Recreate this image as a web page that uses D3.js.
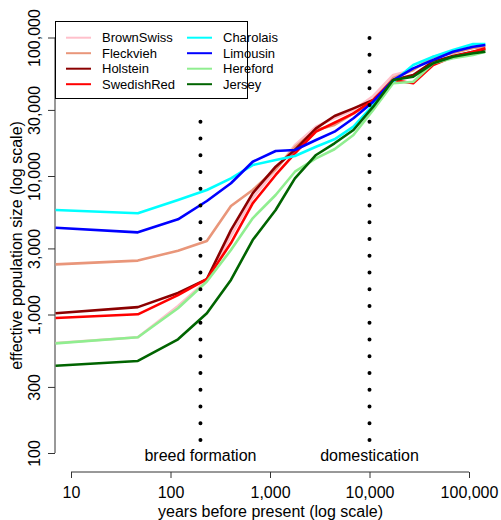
<!DOCTYPE html>
<html>
<head>
<meta charset="utf-8">
<script src="https://cdn.jsdelivr.net/npm/d3@7"></script>
<style>
	body { margin:0; background:#fff; }
	svg text { font-family:"Liberation Sans", Arial, Helvetica, sans-serif; fill:#000; }
</style>
</head>
<body>
<div id="chart"></div>
<script>

//years before present of each estimate
var years = [7, 47, 119, 232, 405, 670, 1140, 1780, 2900, 4450, 6900, 10900, 17300, 27500, 43600, 69000, 110000, 146000];

//effective population size per breed
var brownSwiss = [623, 685, 1150, 1760, 3690, 6940, 11050, 16740, 22700, 26230, 29960, 37800, 53600, 58300, 72700, 78600, 85400, 85800];
var fleckvieh  = [2300, 2450, 2890, 3390, 6070, 7920, 11230, 16190, 21480, 23350, 28360, 34400, 51000, 58300, 72300, 77300, 83900, 85400];
var holstein   = [1020, 1130, 1430, 1800, 4070, 7500, 11670, 15400, 22100, 27100, 30800, 35400, 49300, 53600, 66900, 73500, 79000, 82200];
var swedishRed = [943, 1003, 1380, 1800, 3280, 6350, 10170, 14580, 20890, 24250, 28360, 35400, 49300, 46700, 63300, 72700, 79000, 83600];
var charolais  = [5680, 5380, 6710, 7920, 9620, 12000, 13050, 13940, 16270, 18400, 22700, 32550, 47970, 63300, 72700, 81200, 89700, 89700];
var limousin   = [4230, 3920, 4870, 6600, 8860, 12680, 15150, 15400, 18190, 20890, 26100, 34400, 49300, 59900, 68800, 79000, 85800, 88300];
var hereford   = [619, 685, 1110, 1730, 2920, 4950, 7290, 10740, 13420, 15590, 19770, 29960, 46700, 47970, 65100, 70800, 74700, 79000];
var jersey     = [427, 462, 662, 1020, 1775, 3450, 5680, 9620, 14180, 17220, 21480, 31650, 49300, 52100, 65100, 72700, 76900, 79000];

var breeds = ['BrownSwiss','Fleckvieh','Holstein','SwedishRed','Charolais','Limousin','Hereford','Jersey'];
var colors = ['pink','darksalmon','darkred','red','cyan','blue','lightgreen','darkgreen'];
var series = [brownSwiss, fleckvieh, holstein, swedishRed, charolais, limousin, hereford, jersey];

var xTicks = [10, 100, 1000, 10000, 100000];
var yTicks = [100, 300, 1000, 3000, 10000, 30000, 100000];

//periods marked with dotted lines (top / bottom in population size units)
var events = [{label:'breed formation', year:200, top:25000, bottom:124},
			  {label:'domestication', year:10000, top:100000, bottom:124}];

var w = 501, h = 520;

var svg = d3.select('div#chart').append('svg')
			.attr('width',w)
			.attr('height',h);

var x = d3.scaleLog().domain([10,100000]).range([71,469]);
var y = d3.scaleLog().domain([100,100000]).range([453,37.5]);

var fmt = d3.format(',');

//clip to plot region
svg.append('clipPath')
	.attr('id','plotClip')
	.append('rect')
	.attr('x',55).attr('y',21)
	.attr('width',431).attr('height',449);

//x axis
var xAxis = svg.append('g')
				.attr('transform','translate(0,472)')
				.call(d3.axisBottom(x).tickValues(xTicks).tickFormat(fmt).tickSize(6).tickSizeOuter(0));

//y axis
var yAxis = svg.append('g')
				.attr('transform','translate(55,0)')
				.call(d3.axisLeft(y).tickValues(yTicks).tickFormat(fmt).tickSize(7).tickSizeOuter(0));

svg.selectAll('.domain, .tick line').attr('stroke','#333').attr('stroke-width',1);
xAxis.select('.domain').attr('d','M71,0H469');
yAxis.select('.domain').attr('d','M0,' + y(100) + 'V' + y(100000));

xAxis.selectAll('.tick text')
		.attr('y',26)
		.attr('dy',0)
		.style('font-size','16px');

yAxis.selectAll('.tick text')
		.attr('transform','rotate(-90)')
		.attr('x',0)
		.attr('y',-15)
		.attr('dy',0)
		.attr('text-anchor','middle')
		.style('font-size','16px');

//axis titles
svg.append('text')
	.attr('x',270.5).attr('y',517)
	.attr('text-anchor','middle')
	.style('font-size','16px')
	.text('years before present (log scale)');

svg.append('text')
	.attr('transform','translate(22,245.5) rotate(-90)')
	.attr('text-anchor','middle')
	.style('font-size','16px')
	.text('effective population size (log scale)');

//breed lines
var line = d3.line()
			.x(function(d,i){ return x(years[i]); })
			.y(function(d){ return y(d); });

svg.append('g')
	.attr('clip-path','url(#plotClip)')
	.selectAll('path')
	.data(series)
	.enter()
	.append('path')
	.attr('d',line)
	.attr('fill','none')
	.attr('stroke',function(d,i){ return colors[i]; })
	.attr('stroke-width',2.6)
	.attr('stroke-linejoin','round');

//dotted event lines, drawn bottom up so the dots line up
svg.selectAll('line.event')
	.data(events)
	.enter()
	.append('line')
	.attr('class','event')
	.attr('x1',function(d){ return x(d.year); })
	.attr('x2',function(d){ return x(d.year); })
	.attr('y1',function(d){ return y(d.bottom); })
	.attr('y2',function(d){ return y(d.top); })
	.attr('stroke','#000')
	.attr('stroke-width',4)
	.attr('stroke-linecap','round')
	.attr('stroke-dasharray','0,16.75');

svg.selectAll('text.event')
	.data(events)
	.enter()
	.append('text')
	.attr('class','event')
	.attr('x',function(d){ return x(d.year); })
	.attr('y',461)
	.attr('text-anchor','middle')
	.style('font-size','16px')
	.text(function(d){ return d.label; });

//legend
var legend = svg.append('g').attr('id','legend');

legend.append('rect')
		.attr('x',55.5).attr('y',21.5)
		.attr('width',192).attr('height',77)
		.attr('fill','#fff')
		.attr('stroke','#000');

var items = legend.selectAll('g.item')
				.data(breeds)
				.enter()
				.append('g')
				.attr('class','item')
				.attr('transform',function(d,i){
					return 'translate(' + (i < 4 ? 66 : 187) + ',' + (37.7 + (i % 4) * 15.5) + ')';
				});

items.append('line')
		.attr('x1',0).attr('x2',25)
		.attr('stroke',function(d,i){ return colors[i]; })
		.attr('stroke-width',2);

items.append('text')
		.attr('x',36)
		.attr('dy','0.35em')
		.style('font-size','13px')
		.text(function(d){ return d; });

</script>
</body>
</html>
